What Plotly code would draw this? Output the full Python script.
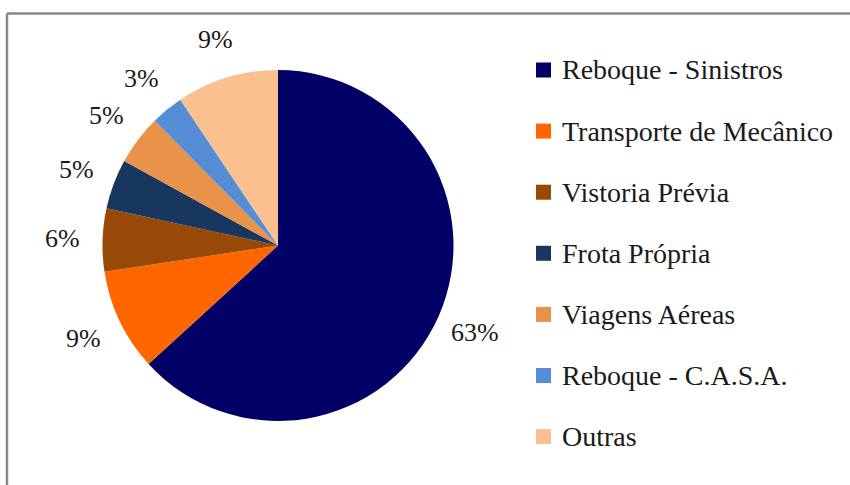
import math
import plotly.graph_objects as go

# ---- data ----
categories = [
    "Reboque - Sinistros",
    "Transporte de Mecânico",
    "Vistoria Prévia",
    "Frota Própria",
    "Viagens Aéreas",
    "Reboque - C.A.S.A.",
    "Outras",
]
values = [63.2, 9.4, 5.8, 4.6, 4.6, 3.0, 9.4]
colors = ["#000066", "#FF6600", "#984807", "#17375E", "#E8924A", "#558ED5", "#FAC090"]

# ---- layout geometry (pixels) ----
W, H = 850, 485
cx, cy, r = 278.0, 245.5, 175.5
label_gap = 40
FONT = "Liberation Serif"

fig = go.Figure(
    go.Pie(
        labels=categories,
        values=values,
        marker=dict(colors=colors, line=dict(width=0)),
        sort=False,
        direction="clockwise",
        rotation=0,
        textinfo="none",
        hoverinfo="label+percent",
        showlegend=False,
        domain=dict(
            x=[(cx - r) / W, (cx + r) / W],
            y=[(H - cy - r) / H, (H - cy + r) / H],
        ),
    )
)

# percent labels placed radially outside each slice
total = sum(values)
cum = 0.0
annotations = []
for v in values:
    mid = (cum + v / 2) / total
    cum += v
    th = 2 * math.pi * mid
    R = r + label_gap
    px = cx + R * math.sin(th)
    py = cy - R * math.cos(th)
    annotations.append(dict(
        x=px / W, y=1 - py / H, xref="paper", yref="paper",
        text=f"{round(100 * v / total)}%", showarrow=False,
        xanchor="center", yanchor="middle",
        font=dict(family=FONT, size=26, color="#1a1a1a"),
    ))

# legend drawn as squares + text
shapes = []
leg_x0, leg_y0, leg_dy, sq = 536, 70, 61.1, 15
for i, (name, col) in enumerate(zip(categories, colors)):
    yc = leg_y0 + leg_dy * i
    shapes.append(dict(
        type="rect", xref="paper", yref="paper",
        x0=leg_x0 / W, x1=(leg_x0 + sq) / W,
        y0=1 - (yc + sq / 2) / H, y1=1 - (yc - sq / 2) / H,
        fillcolor=col, line=dict(width=0),
    ))
    annotations.append(dict(
        x=(leg_x0 + sq + 9) / W, y=1 - yc / H, xref="paper", yref="paper",
        text=name, showarrow=False, xanchor="left", yanchor="middle",
        font=dict(family=FONT, size=28, color="#1a1a1a"),
    ))

# outer frame (top and left edges visible)
frame_col = "#898989"
shapes.append(dict(type="line", xref="paper", yref="paper",
                   x0=7 / W, x1=1.0, y0=1 - 13.5 / H, y1=1 - 13.5 / H,
                   line=dict(color=frame_col, width=2.5)))
shapes.append(dict(type="line", xref="paper", yref="paper",
                   x0=7 / W, x1=7 / W, y0=0.0, y1=1 - 13.5 / H,
                   line=dict(color=frame_col, width=2.5)))

fig.update_layout(
    width=W, height=H,
    margin=dict(l=0, r=0, t=0, b=0),
    paper_bgcolor="white", plot_bgcolor="white",
    annotations=annotations, shapes=shapes,
    showlegend=False,
)

fig.write_html(
    "out.html",
    config={"displayModeBar": False},
    post_script="document.body.style.margin='0';document.body.style.overflow='hidden';",
)
